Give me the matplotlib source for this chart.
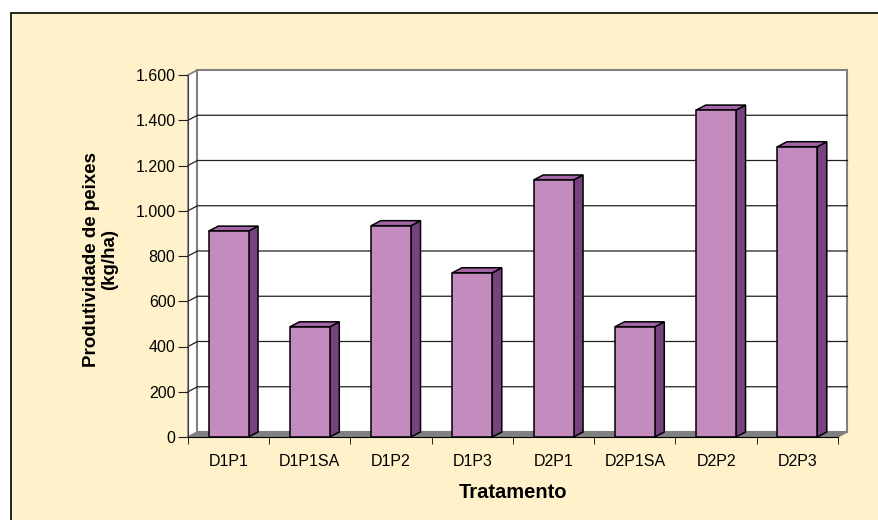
import matplotlib.pyplot as plt
from matplotlib.patches import Polygon, Rectangle

plt.rcParams['font.family'] = ['Liberation Sans', 'DejaVu Sans']

# dados
tratamentos = ['D1P1', 'D1P1SA', 'D1P2', 'D1P3', 'D2P1', 'D2P1SA', 'D2P2', 'D2P3']
produtividade = [910, 487, 934, 726, 1136, 487, 1445, 1283]
yticks = [0, 200, 400, 600, 800, 1000, 1200, 1400, 1600]
ytick_labels = ['0', '200', '400', '600', '800', '1.000', '1.200', '1.400', '1.600']

cor_frente = '#C48BBE'
cor_lado = '#77437F'
cor_topo = '#A564A8'
cor_fundo = '#FFF2CA'

W, H = 879, 520
fig = plt.figure(figsize=(W / 100, H / 100), dpi=100, facecolor='white')

# moldura creme (cortada à direita e embaixo)
fig.patches.append(Rectangle((11 / W, -0.1), 1.2, 1.1 - 13 / H, transform=fig.transFigure,
                             facecolor=cor_fundo, edgecolor='black', lw=1.2, zorder=-10))

ax = fig.add_axes([188 / W, (H - 437) / H, 650 / W, 362 / H])
ax.set_xlim(0, 8)
ax.set_ylim(0, 1600)
ax.patch.set_visible(False)

# profundidade do efeito 3D (em unidades de dados)
dx = 9.5 / 81.25
dy = 5.0 / (362 / 1600)

# paredes e piso
ax.add_patch(Polygon([(0, 0), (dx, dy), (dx, 1600 + dy), (0, 1600)], closed=True,
                     facecolor='white', edgecolor='#808080', lw=1.2, clip_on=False, zorder=1))
ax.add_patch(Rectangle((dx, dy), 8, 1600, facecolor='white', edgecolor='#808080',
                       lw=1.5, clip_on=False, zorder=1))
ax.add_patch(Polygon([(0, 0), (8, 0), (8 + dx, dy), (dx, dy)], closed=True,
                     facecolor='#808080', edgecolor='#808080', lw=0.8, clip_on=False, zorder=2))

# linhas de grade
for v in yticks[1:-1]:
    ax.plot([0, dx, 8 + dx], [v, v + dy, v + dy], color='#202020', lw=0.9,
            clip_on=False, zorder=2)

# barras
x = [i + 0.5 for i in range(len(tratamentos))]
w = 0.49
ax.bar(x, produtividade, width=w, color=cor_frente, edgecolor='black', lw=1.1,
       clip_on=False, zorder=4)
for xi, v in zip(x, produtividade):
    r = xi + w / 2
    l = xi - w / 2
    ax.add_patch(Polygon([(r, 0), (r + dx, dy), (r + dx, v + dy), (r, v)], closed=True,
                         facecolor=cor_lado, edgecolor='black', lw=1.1, clip_on=False, zorder=3))
    ax.add_patch(Polygon([(l, v), (r, v), (r + dx, v + dy), (l + dx, v + dy)], closed=True,
                         facecolor=cor_topo, edgecolor='black', lw=1.1, clip_on=False, zorder=3))

# eixos
for s in ['top', 'right']:
    ax.spines[s].set_visible(False)
ax.spines['left'].set_color('#404040')
ax.spines['bottom'].set_color('black')
ax.spines['left'].set_zorder(5)
ax.spines['bottom'].set_zorder(5)

ax.set_yticks(yticks)
ax.set_yticklabels(ytick_labels, fontsize=11.5)
ax.tick_params(axis='y', direction='out', length=7, pad=2, color='#202020')

ax.set_xticks(x)
ax.set_xticklabels(tratamentos, fontsize=11.5)
ax.set_xticks(range(0, 9), minor=True)
ax.tick_params(axis='x', which='major', length=0, pad=12)
ax.tick_params(axis='x', which='minor', direction='out', length=5, color='black')

ax.set_xlabel('Tratamento', fontsize=14.5, fontweight='bold')
ax.xaxis.set_label_coords(0.5, -0.128)
ax.set_ylabel('Produtividade de peixes\n(kg/ha)', fontsize=13.5, fontweight='bold',
              linespacing=1.1)
ax.yaxis.set_label_coords(-0.107, 0.49)

fig.savefig('out.png', dpi=100, facecolor=fig.get_facecolor())
